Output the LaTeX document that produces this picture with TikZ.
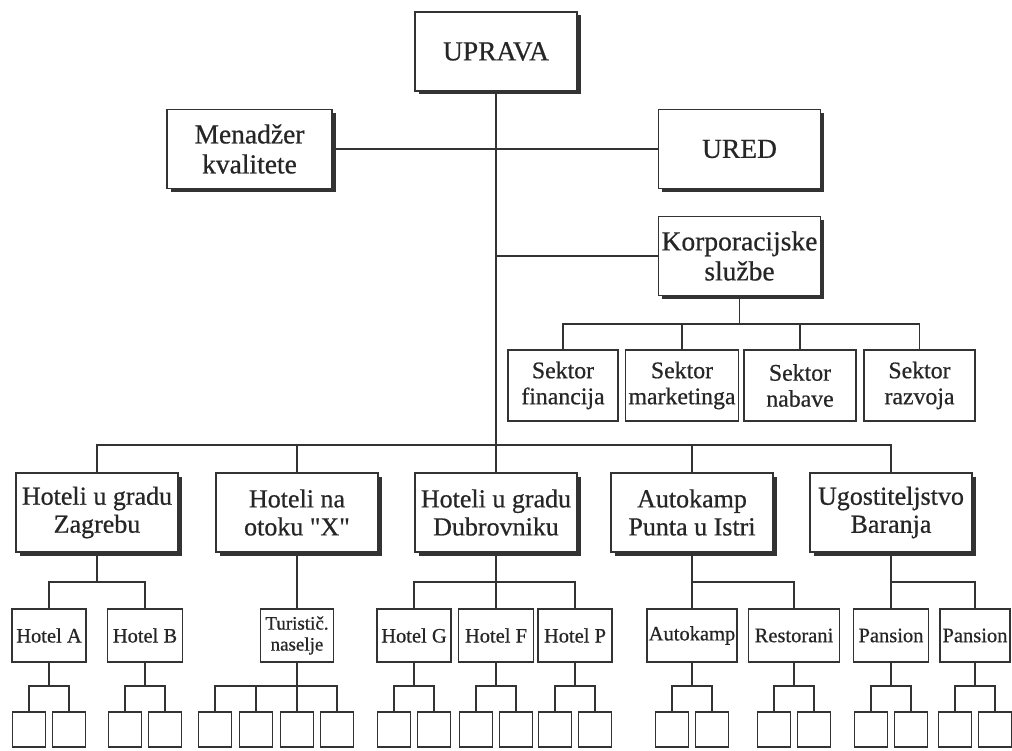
\documentclass[tikz,border=0pt]{standalone}
\usepackage{fontspec}
\setmainfont{Liberation Serif}[FakeBold=0.6]
\usetikzlibrary{shadows}
\definecolor{ink}{HTML}{333333}
\begin{document}
\begin{tikzpicture}[x=1pt,y=-1pt,
  box/.style={draw=ink, line width=1.9pt, fill=white, align=center, inner sep=1pt, text=black!85},
  shbox/.style={box, drop shadow={shadow xshift=3.5pt, shadow yshift=-3.5pt, opacity=1, fill=black!80}},
  big/.style={shbox, minimum width=162pt, minimum height=79pt, font=\fontsize{27.5}{30}\selectfont},
  mid/.style={shbox, minimum width=162pt, minimum height=79pt, font=\fontsize{26}{28}\selectfont},
  sec/.style={box, minimum height=71pt, font=\fontsize{23.8}{26}\selectfont},
  low/.style={box, minimum height=53pt, font=\fontsize{20.5}{21}\selectfont},
  leaf/.style={box, minimum width=33pt, minimum height=35pt},
  conn/.style={draw=ink, line width=1.9pt}]
\useasboundingbox (0,0) rectangle (1012,751);
\fill[white] (0,0) rectangle (1012,751);
% bar levels
\coordinate (ys) at (0,324);
\coordinate (y2) at (0,445);
\coordinate (y3) at (0,582);
\coordinate (y4) at (0,686);
% top
\node[big] (uprava) at (496,51.5) {UPRAVA};
\node[big, minimum width=165pt] (menadzer) at (249.5,149) {Menadžer\\kvalitete};
\node[big] (ured) at (739.5,149) {URED};
\node[big] (korp) at (739.5,256) {Korporacijske\\službe};
% sectors
\node[sec, minimum width=110pt] (fin) at (563,385.5) {Sektor\\financija};
\node[sec, minimum width=113pt] (mkt) at (682,385.5) {Sektor\\marketinga};
\node[sec, minimum width=112pt] (nab) at (800,385.5) {Sektor\\nabave};
\node[sec, minimum width=111pt] (raz) at (919.5,385.5) {Sektor\\razvoja};
% level 2
\node[mid] (zag) at (97,512.5) {Hoteli u gradu\\Zagrebu};
\node[mid] (otok) at (297,512.5) {Hoteli na\\otoku \textquotedbl X\textquotedbl};
\node[mid] (dub) at (496,512.5) {Hoteli u gradu\\Dubrovniku};
\node[mid] (auto) at (692,512.5) {Autokamp\\Punta u Istri};
\node[mid] (bar) at (891,512.5) {Ugostiteljstvo\\Baranja};
% level 3
\node[low, minimum width=74pt] (ha) at (49,635.5) {Hotel A};
\node[low, minimum width=75pt] (hb) at (145,635.5) {Hotel B};
\node[low, minimum width=73pt, font=\fontsize{19}{21}\selectfont] (tur) at (297,635.5) {Turistič.\\naselje};
\node[low, minimum width=74pt] (hg) at (414,635.5) {Hotel G};
\node[low, minimum width=75pt] (hf) at (496,635.5) {Hotel F};
\node[low, minimum width=74pt] (hp) at (575,635.5) {Hotel P};
\node[low, minimum width=90pt] (ak) at (692,635.5) {Autokamp};
\node[low, minimum width=91pt] (rest) at (794,635.5) {Restorani};
\node[low, minimum width=75pt] (pa) at (891,635.5) {Pansion};
\node[low, minimum width=70pt] (pb) at (975,635.5) {Pansion};
% connectors top
\draw[conn] (uprava.south) -- (dub.north);
\draw[conn] (menadzer.east) -- (ured.west);
\draw[conn] (korp.west -| uprava.south) -- (korp.west);
% sectors
\draw[conn] (korp.south) -- (korp.south |- ys);
\draw[conn] (fin.north) -- (fin.north |- ys) -- (raz.north |- ys) -- (raz.north);
\draw[conn] (mkt.north) -- (mkt.north |- ys);
\draw[conn] (nab.north) -- (nab.north |- ys);
% level 2
\draw[conn] (zag.north) -- (zag.north |- y2) -- (bar.north |- y2) -- (bar.north);
\draw[conn] (otok.north) -- (otok.north |- y2);
\draw[conn] (auto.north) -- (auto.north |- y2);
% level 3
\draw[conn] (zag.south) -- (zag.south |- y3);
\draw[conn] (ha.north) -- (ha.north |- y3) -- (hb.north |- y3) -- (hb.north);
\draw[conn] (otok.south) -- (tur.north);
\draw[conn] (dub.south) -- (hf.north);
\draw[conn] (hg.north) -- (hg.north |- y3) -- (hp.north |- y3) -- (hp.north);
\draw[conn] (auto.south) -- (auto.south |- y3);
\draw[conn] (ak.north) -- (ak.north |- y3) -- (rest.north |- y3) -- (rest.north);
\draw[conn] (bar.south) -- (bar.south |- y3);
\draw[conn] (pa.north) -- (pa.north |- y3) -- (pb.north |- y3) -- (pb.north);
% level 4 pairs
\foreach \p/\n/\xa/\xb in {ha/la/29/69, hb/lb/125/165, hg/lg/394/434, hf/lf/476/516,
    hp/lp/555/595, ak/lk/672/712, rest/lr/774/814, pa/lpa/871/911, pb/lpb/955/995}{
  \node[leaf] (\n1) at (\xa,729.5) {};
  \node[leaf] (\n2) at (\xb,729.5) {};
  \draw[conn] (\p.south) -- (\p.south |- y4);
  \draw[conn] (\n1.north) -- (\n1.north |- y4) -- (\n2.north |- y4) -- (\n2.north);
}
% Turistic naselje children
\node[leaf] (lt1) at (215,729.5) {};
\node[leaf] (lt2) at (256,729.5) {};
\node[leaf] (lt3) at (297,729.5) {};
\node[leaf] (lt4) at (337,729.5) {};
\draw[conn] (tur.south) -- (lt3.north);
\draw[conn] (lt1.north) -- (lt1.north |- y4) -- (lt4.north |- y4) -- (lt4.north);
\draw[conn] (lt2.north) -- (lt2.north |- y4);
\end{tikzpicture}
\end{document}
